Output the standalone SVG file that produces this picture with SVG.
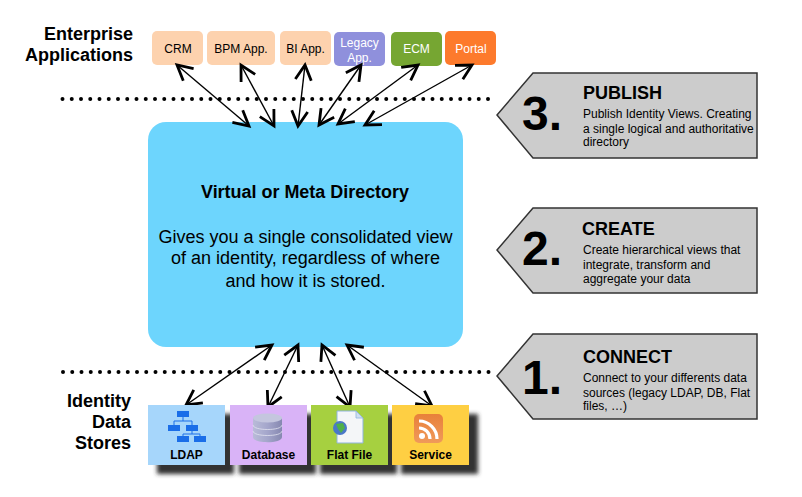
<svg xmlns="http://www.w3.org/2000/svg" width="802" height="497" viewBox="0 0 802 497">
<style>
text{font-family:"Liberation Sans",Arial,sans-serif;fill:#000}
.b{font-weight:bold}
.app{font-size:12px;text-anchor:middle}
.w{fill:#fff}
.side{font-size:18px;font-weight:bold;text-anchor:end}
.store{font-size:12px;font-weight:bold;text-anchor:middle}
.pent{fill:#cccccc;stroke:#333;stroke-width:1.5}
.num{font-size:48px;font-weight:bold}
.title{font-size:18px;font-weight:bold}
.desc{font-size:12px}
.mid{font-size:18px;text-anchor:middle}
.dots{fill:none;stroke:#000;stroke-width:4;stroke-linecap:round;stroke-dasharray:0 9.25}
.con{fill:none;stroke:#000;stroke-width:1.4;marker-start:url(#ah);marker-end:url(#ah)}
.sh{fill:#333;filter:url(#blur)}
</style>
<defs>
<marker id="ah" markerUnits="userSpaceOnUse" markerWidth="24" markerHeight="24" viewBox="-20 -12 24 24" refX="0" refY="0" orient="auto-start-reverse">
<path d="M-15,-8 L0,0 L-15,8" fill="none" stroke="#000" stroke-width="2.8"/>
</marker>
<filter id="blur" x="-20%" y="-20%" width="140%" height="140%"><feGaussianBlur stdDeviation="2"/></filter>
<linearGradient id="cyl" x1="0" x2="1" y1="0" y2="0"><stop offset="0" stop-color="#b9bbd8"/><stop offset="0.5" stop-color="#a4a6cb"/><stop offset="1" stop-color="#8688b0"/></linearGradient>
<linearGradient id="rss" x1="0" x2="0" y1="0" y2="1"><stop offset="0" stop-color="#e8803a"/><stop offset="1" stop-color="#f09a5a"/></linearGradient>
</defs>
<rect width="802" height="497" fill="#fff"/>

<g id="label-enterprise">
<text class="side" x="133" y="40">Enterprise</text>
<text class="side" x="133" y="61">Applications</text>
</g>
<g id="app-crm"><rect x="152" y="31" width="51" height="34" rx="5" fill="#fdd2ae"/><text class="app" x="178" y="53">CRM</text></g>
<g id="app-bpm"><rect x="207" y="31" width="68" height="34" rx="5" fill="#fdd2ae"/><text class="app" x="241" y="53">BPM App.</text></g>
<g id="app-bi"><rect x="280" y="31" width="51" height="34" rx="5" fill="#fdd2ae"/><text class="app" x="305.500" y="53">BI App.</text></g>
<g id="app-legacy"><rect x="334" y="32" width="51" height="34" rx="5" fill="#8f90dc"/><text class="app w" x="359.500" y="47">Legacy</text><text class="app w" x="359.500" y="62">App.</text></g>
<g id="app-ecm"><rect x="391" y="32" width="51" height="34" rx="5" fill="#76a632"/><text class="app w" x="416.500" y="53">ECM</text></g>
<g id="app-portal"><rect x="445" y="31" width="51" height="34" rx="5" fill="#fd7a2c"/><text class="app w" x="471" y="53">Portal</text></g>

<g id="dividers">
<path class="dots" d="M62.500,99H489"/>
<path class="dots" d="M63,372H489"/>
</g>

<g id="directory">
<rect x="148" y="122" width="315" height="225" rx="18" fill="#6dd5fd"/>
<text class="b" x="305" y="198" font-size="16" style="font-size:18px" text-anchor="middle" textLength="208" lengthAdjust="spacingAndGlyphs">Virtual or Meta Directory</text>
<text class="mid" x="305.500" y="243">Gives you a single consolidated view</text>
<text class="mid" x="305.500" y="264">of an identity, regardless of where</text>
<text class="mid" x="305.500" y="287">and how it is stored.</text>
</g>

<g id="connectors">
<path class="con" d="M177,65L249,126"/>
<path class="con" d="M241,65L274,126"/>
<path class="con" d="M305,65L298,126"/>
<path class="con" d="M361,65L319,125"/>
<path class="con" d="M418,65L338,124"/>
<path class="con" d="M472,65L365,125"/>
<path class="con" d="M186,405L272,345"/>
<path class="con" d="M268,407L298,345"/>
<path class="con" d="M350,407L322,345"/>
<path class="con" d="M432,406L347,345"/>
</g>

<g id="label-stores">
<text class="side" x="131" y="407">Identity</text>
<text class="side" x="131" y="428">Data</text>
<text class="side" x="131" y="449">Stores</text>
</g>

<g id="store-ldap">
<rect class="sh" x="157" y="414" width="77" height="60"/>
<rect x="148" y="405" width="77" height="60" fill="#a6d6fb"/>
<path d="M183,417V421H174V425M183,421H192V425M192,431V434H183V436M192,434H200V436" fill="none" stroke="#1a6ee8" stroke-width="1"/>
<g fill="#1a6ee8"><rect x="177" y="411" width="12" height="6"/><rect x="168" y="425" width="12" height="6"/><rect x="186" y="425" width="12" height="6"/><rect x="177" y="436" width="12" height="6"/><rect x="194" y="436" width="12" height="6"/></g>
<text class="store" x="186.500" y="459">LDAP</text>
</g>
<g id="store-database">
<rect class="sh" x="239" y="414" width="77" height="60"/>
<rect x="230" y="405" width="77" height="60" fill="#d9b3f7"/>
<path d="M253,418V437C253,444 282,444 282,437V418Z" fill="url(#cyl)"/>
<ellipse cx="267.500" cy="418" rx="14.500" ry="4.500" fill="#c4c6de"/>
<path d="M253,425C253,431 282,431 282,425M253,431C253,437 282,437 282,431" fill="none" stroke="#e2e3f0" stroke-width="0.8"/>
<text class="store" x="268.500" y="459">Database</text>
</g>
<g id="store-flatfile">
<rect class="sh" x="320" y="414" width="77" height="60"/>
<rect x="311" y="405" width="77" height="60" fill="#a6d040"/>
<path d="M337,411H356L363,418V443H337Z" fill="#f4f6f8" stroke="#8fb4dc" stroke-width="1"/>
<path d="M356,411V418H363Z" fill="#cfdff0" stroke="#8fb4dc" stroke-width="0.8"/>
<circle cx="340" cy="428" r="7" fill="#4a78c8"/>
<path d="M336,424L343,423L345,428L341,433L338,429Z" fill="#4fb04a"/>
<text class="store" x="349.500" y="459">Flat File</text>
</g>
<g id="store-service">
<rect class="sh" x="401" y="414" width="77" height="60"/>
<rect x="392" y="405" width="77" height="60" fill="#fecf43"/>
<rect x="414" y="414" width="29" height="29" rx="5" fill="url(#rss)"/>
<circle cx="422" cy="436" r="3" fill="#fff"/>
<path d="M419,428A11,11 0 0 1 430,439M419,421A18,18 0 0 1 437,439" fill="none" stroke="#fff" stroke-width="3.200"/>
<text class="store" x="430.500" y="459">Service</text>
</g>

<g id="step-3">
<path class="pent" d="M533,73H757V158H533L497,115Z"/>
<text class="num" x="522" y="130">3.</text>
<text class="title" x="583" y="99">PUBLISH</text>
<text class="desc" x="583" y="118">Publish Identity Views. Creating</text>
<text class="desc" x="583" y="133">a single logical and authoritative</text>
<text class="desc" x="583" y="146">directory</text>
</g>
<g id="step-2">
<path class="pent" d="M533,208H757V293H533L497,250Z"/>
<text class="num" x="522" y="265">2.</text>
<text class="title" x="582" y="235">CREATE</text>
<text class="desc" x="583" y="254">Create hierarchical views that</text>
<text class="desc" x="583" y="269">integrate, transform and</text>
<text class="desc" x="583" y="283">aggregate your data</text>
</g>
<g id="step-1">
<path class="pent" d="M533,334H757V419H533L497,376Z"/>
<text class="num" x="522" y="394">1.</text>
<text class="title" x="583" y="363">CONNECT</text>
<text class="desc" x="583" y="382">Connect to your differents data</text>
<text class="desc" x="583" y="397">sources (legacy LDAP, DB, Flat</text>
<text class="desc" x="583" y="410">files, …)</text>
</g>
</svg>
